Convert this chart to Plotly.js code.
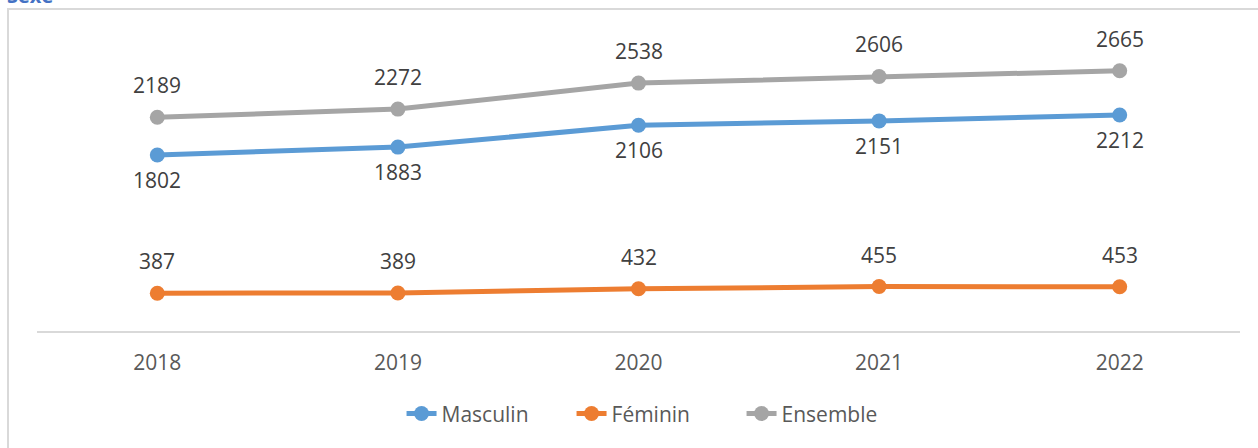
<!DOCTYPE html>
<html>
<head>
<meta charset="utf-8">
<script src="https://cdn.plot.ly/plotly-3.0.1.min.js"></script>
<style>
  html, body { margin: 0; padding: 0; background: #ffffff; overflow: hidden; }
  #frame { position: absolute; left: 7px; top: 8px; width: 1300px; height: 500px;
           border: 2px solid #d9d9d9; box-sizing: border-box; z-index: 0; }
  #chart { position: absolute; left: 0; top: 0; width: 1258px; height: 448px; z-index: 1; }
</style>
</head>
<body>
<div id="frame"></div>
<div id="chart"></div>
<script>
const years = ['2018', '2019', '2020', '2021', '2022'];
const masculin = [1802, 1883, 2106, 2151, 2212];
const feminin = [387, 389, 432, 455, 453];
const ensemble = [2189, 2272, 2538, 2606, 2665];
const seriesNames = ['Masculin', 'Féminin', 'Ensemble'];
const chartTitle = 'Sexe';

const colors = ['#5B9BD5', '#ED7D31', '#A5A5A5'];
const allSeries = [masculin, feminin, ensemble];
const labelShift = [-25, 32, 32]; // below for Masculin, above for others

const traces = allSeries.map((vals, i) => ({
  type: 'scatter',
  mode: 'lines+markers',
  name: seriesNames[i],
  x: years,
  y: vals,
  line: { color: colors[i], width: 5 },
  marker: { color: colors[i], size: 15, symbol: 'circle' },
  hoverinfo: 'x+y+name'
}));

const annotations = [];
allSeries.forEach((vals, i) => {
  vals.forEach((v, j) => {
    annotations.push({
      x: j, y: v, xref: 'x', yref: 'y',
      text: String(v), showarrow: false,
      yshift: labelShift[i],
      font: { family: 'Open Sans, sans-serif', size: 21, color: '#404040' }
    });
  });
});
annotations.push({
  xref: 'paper', yref: 'paper', x: -0.027, y: 1.092,
  xanchor: 'left', yanchor: 'bottom', showarrow: false,
  text: '<b>' + chartTitle + '</b>',
  font: { family: 'Open Sans, sans-serif', size: 20, color: '#4472C4' }
});

const layout = {
  width: 1258, height: 448,
  margin: { l: 37, r: 18, t: 38, b: 117, pad: 0 },
  paper_bgcolor: 'rgba(0,0,0,0)',
  plot_bgcolor: 'rgba(0,0,0,0)',
  font: { family: 'Open Sans, sans-serif', size: 21, color: '#595959' },
  showlegend: true,
  legend: {
    orientation: 'h', x: 0.515, xanchor: 'center', y: -0.283, yanchor: 'middle',
    entrywidth: 125,
    font: { family: 'Open Sans, sans-serif', size: 21, color: '#595959' },
    bgcolor: 'rgba(0,0,0,0)'
  },
  xaxis: {
    type: 'category', range: [-0.5, 4.5],
    showline: true, linecolor: '#d9d9d9', linewidth: 2,
    showgrid: false, zeroline: false, ticks: '',
    ticklabelstandoff: 12,
    tickfont: { family: 'Open Sans, sans-serif', size: 21, color: '#595959' },
    fixedrange: true
  },
  yaxis: {
    range: [0, 3000], visible: false, showgrid: false, zeroline: false, fixedrange: true
  },
  annotations: annotations
};

Plotly.newPlot('chart', traces, layout, { displayModeBar: false, staticPlot: false });
</script>
</body>
</html>
